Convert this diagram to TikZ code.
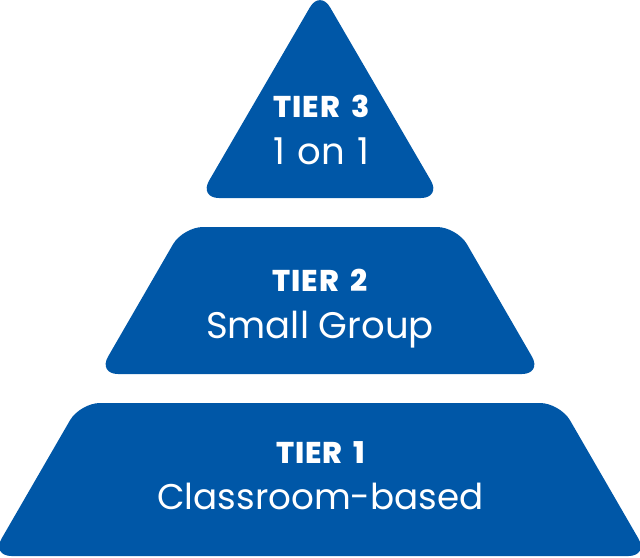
\documentclass[tikz,border=0pt]{standalone}
\usepackage{fontspec}
\setmainfont{Poppins}
\newfontfamily\heavyfont[LetterSpace=3, WordSpace=1.7]{Poppins ExtraBold}
\usepackage{tikz}
\definecolor{tierblue}{RGB}{0,87,167}
\tikzstyle{tier} = [fill=tierblue, draw=none, rounded corners=20pt]
\tikzstyle{head} = [text=white, font=\fontsize{30}{30}\heavyfont, anchor=base, inner sep=0pt]
\tikzstyle{label} = [text=white, font=\fontsize{37}{37}\selectfont, anchor=base, inner sep=0pt]

\begin{document}
\begin{tikzpicture}[x=1pt, y=-1pt]
\useasboundingbox (0, 0) rectangle (640, 557);

% tiers, top to bottom

\path [tier] (320, -10) -- (441, 198) -- (199, 198) -- cycle;
\path [tier] (183, 227) -- (457, 227) -- (542, 374) -- (98, 374) -- cycle;
\path [tier] (80, 403) -- (560, 403) -- (648.5, 556) -- (-8.5, 556) -- cycle;

% labels

\node [head] at (321.5, 117) (head3) {TIER 3};
\node [label] at (321.5, 164) (label3) {1\hspace{.34em}on\hspace{.34em}1};
\node [head] at (320, 291) (head2) {TIER 2};
\node [label] at (320, 338) (label2) {Small Group};
\node [head] at (321, 463) (head1) {TIER 1};
\node [label, font=\fontsize{35.7}{36}\selectfont] at (320.5, 509) (label1) {Classroom-based};

\end{tikzpicture}
\end{document}
